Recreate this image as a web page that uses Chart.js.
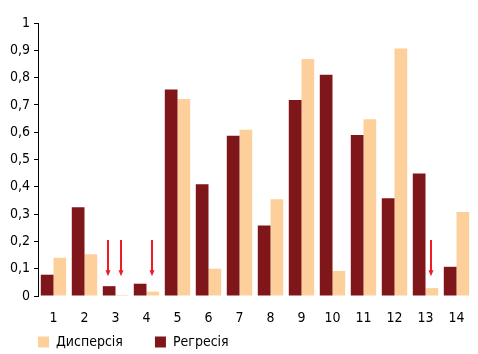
<!DOCTYPE html>
<html>
<head>
<meta charset="utf-8">
<script src="https://cdn.jsdelivr.net/npm/chart.js@4/dist/chart.umd.min.js"></script>
<style>
html,body{margin:0;padding:0;background:#fff;}
#wrap{width:478px;height:354px;position:relative;}
</style>
</head>
<body>
<div id="wrap"><canvas id="c" width="478" height="354"></canvas></div>
<script>
const categories = ['1','2','3','4','5','6','7','8','9','10','11','12','13','14'];
const regressionValues = [0.078,0.325,0.036,0.045,0.756,0.409,0.587,0.258,0.718,0.81,0.59,0.358,0.449,0.107];
const dispersionValues = [0.14,0.153,0.004,0.016,0.722,0.1,0.609,0.354,0.868,0.092,0.647,0.907,0.029,0.308];
const seriesNames = ['Регресія','Дисперсія'];
const yTickValues = [0,0.1,0.2,0.3,0.4,0.5,0.6,0.7,0.8,0.9,1];
// arrows: [category index, dataset index]
const arrowTargets = [[2,0],[2,1],[3,1],[12,1]];
const arrowFrom = 0.205;
const arrowTo = 0.072;

const FONT = "'Liberation Sans Narrow','Arial Narrow','DejaVu Sans Condensed',sans-serif";

const arrowPlugin = {
  id: 'arrows',
  afterDatasetsDraw(chart) {
    const ctx = chart.ctx;
    const y = chart.scales.y;
    ctx.save();
    ctx.strokeStyle = '#ee1c25';
    ctx.fillStyle = '#ee1c25';
    ctx.lineWidth = 2;
    arrowTargets.forEach(([ci, di]) => {
      const bar = chart.getDatasetMeta(di).data[ci];
      const x = Math.round(bar.x) - 1;
      const y0 = y.getPixelForValue(arrowFrom);
      const y1 = y.getPixelForValue(arrowTo);
      ctx.beginPath();
      ctx.moveTo(x, y0);
      ctx.lineTo(x, y1 - 5);
      ctx.stroke();
      ctx.beginPath();
      ctx.moveTo(x - 2.5, y1 - 6);
      ctx.lineTo(x + 2.5, y1 - 6);
      ctx.lineTo(x, y1);
      ctx.closePath();
      ctx.fill();
    });
    ctx.restore();
  }
};

// place the legend row just under the axis labels
const legendPlace = {
  id: 'legendPlace',
  afterLayout(chart) {
    const lg = chart.legend;
    if (!lg) return;
    const h = lg.bottom - lg.top;
    lg.top = chart.chartArea.bottom + 7;
    lg.bottom = lg.top + h;
    lg.left = lg.left - 2;
  }
};

new Chart(document.getElementById('c'), {
  type: 'bar',
  data: {
    labels: categories,
    datasets: [
      { label: seriesNames[0], data: regressionValues, backgroundColor: '#7e161a', borderWidth: 0 },
      { label: seriesNames[1], data: dispersionValues, backgroundColor: '#fdd09b', borderWidth: 0 }
    ]
  },
  options: {
    responsive: false,
    animation: false,
    devicePixelRatio: 1,
    layout: { padding: { left: 8, right: 6, top: 23, bottom: -36 } },
    datasets: { bar: { categoryPercentage: 0.82, barPercentage: 1 } },
    plugins: {
      tooltip: { enabled: false },
      legend: {
        position: 'bottom',
        align: 'start',
        reverse: true,
        labels: {
          boxWidth: 11, boxHeight: 11,
          font: { family: FONT, size: 14 },
          color: '#000',
          padding: 32
        }
      }
    },
    scales: {
      x: {
        afterFit(scale) { scale.height = 38; },
        grid: { display: false },
        border: { display: false },
        ticks: { font: { family: FONT, size: 14 }, color: '#000', padding: 6 }
      },
      y: {
        min: 0, max: 1,
        afterBuildTicks(scale) { scale.ticks = yTickValues.map(v => ({ value: v })); },
        afterFit(scale) { scale.width = 30; },
        grid: { drawOnChartArea: false, drawTicks: true, tickLength: 4, color: '#000', lineWidth: 1 },
        border: { display: true, color: '#000', width: 1 },
        ticks: {
          font: { family: FONT, size: 14 },
          color: '#000',
          padding: 4,
          callback(v) { return (v === 0 || v === 1) ? String(v) : v.toFixed(1).replace('.', ','); }
        }
      }
    }
  },
  plugins: [arrowPlugin, legendPlace]
});
</script>
</body>
</html>
